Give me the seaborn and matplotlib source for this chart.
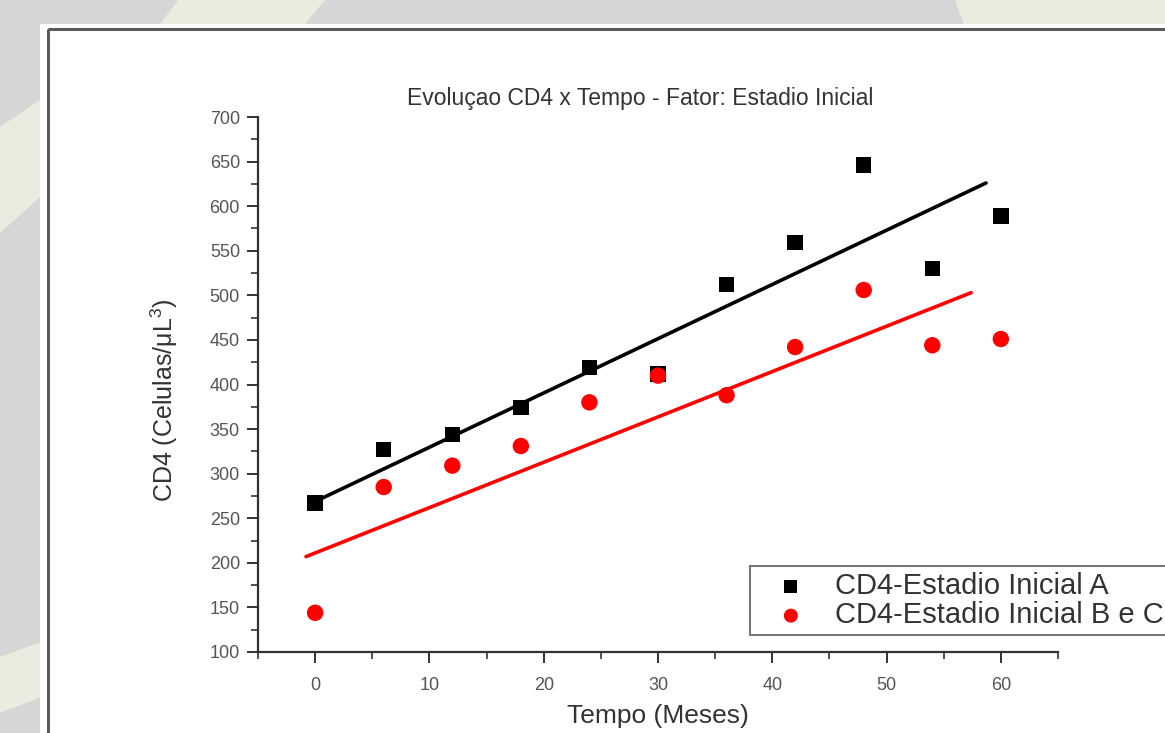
import numpy as np
import pandas as pd
import matplotlib
import matplotlib.pyplot as plt
import seaborn as sns
from matplotlib.patches import Polygon, Rectangle
from matplotlib.ticker import MultipleLocator

matplotlib.use('Agg')

# dados
meses = [0, 6, 12, 18, 24, 30, 36, 42, 48, 54, 60]
cd4_a = [267, 327, 344, 374, 419, 412, 512, 559, 646, 530, 589]
cd4_bc = [144, 285, 309, 331, 380, 410, 388, 442, 506, 444, 451]

# retas de ajuste (extremos)
fit_a_x = [0.2, 58.7]
fit_a_y = [270, 626]
fit_bc_x = [-0.8, 57.4]
fit_bc_y = [207, 503]

rotulo_a = 'CD4-Estadio Inicial A'
rotulo_bc = 'CD4-Estadio Inicial B e C'

sns.set_style('white')
plt.rcParams['font.family'] = ['Liberation Sans', 'DejaVu Sans']
plt.rcParams['mathtext.fontset'] = 'custom'
plt.rcParams['mathtext.rm'] = 'Liberation Sans'
plt.rcParams['mathtext.it'] = 'Liberation Sans'

W, H = 1165, 733
fig = plt.figure(figsize=(W / 100, H / 100), dpi=100)
fig.patch.set_facecolor('#d6d6d6')

# fundo (faixas) e painel branco
bg = fig.add_axes([0, 0, 1, 1], zorder=0)
bg.set_xlim(0, W)
bg.set_ylim(H, 0)
bg.axis('off')
verde = '#e9eddf'
bg.add_patch(Polygon([(178, 0), (325, 0), (305, 24), (40, 197), (0, 233),
                      (0, 127), (40, 100), (160, 24)], closed=True, color=verde, lw=0))
bg.add_patch(Polygon([(0, 657), (60, 635), (60, 690), (0, 713)], closed=True, color=verde, lw=0))
bg.add_patch(Polygon([(955, 0), (W, 0), (W, 30), (966, 30)], closed=True, color=verde, lw=0))
bg.add_patch(Rectangle((40, 24), W, H, facecolor='white', edgecolor='none'))
bg.add_patch(Rectangle((48, 29), W, H, facecolor='none', edgecolor='#5a5a5a', lw=2.2))

ax = fig.add_axes([258 / W, 1 - 652 / H, 800 / W, 535 / H], zorder=1)
ax.patch.set_alpha(0)

df_fit_a = pd.DataFrame({'x': fit_a_x, 'y': fit_a_y})
df_fit_bc = pd.DataFrame({'x': fit_bc_x, 'y': fit_bc_y})
sns.lineplot(data=df_fit_a, x='x', y='y', color='black', lw=2.6, ax=ax)
sns.lineplot(data=df_fit_bc, x='x', y='y', color='#ff0000', lw=2.6, ax=ax)

df_a = pd.DataFrame({'meses': meses, 'cd4': cd4_a})
df_bc = pd.DataFrame({'meses': meses, 'cd4': cd4_bc})
sns.scatterplot(data=df_a, x='meses', y='cd4', marker='s', s=125, color='black',
                edgecolor='none', label=rotulo_a, ax=ax, zorder=3)
sns.scatterplot(data=df_bc, x='meses', y='cd4', marker='o', s=140, color='#ff0000',
                edgecolor='none', label=rotulo_bc, ax=ax, zorder=4)

ax.set_xlim(-5, 65)
ax.set_ylim(100, 700)
ax.xaxis.set_major_locator(MultipleLocator(10))
ax.xaxis.set_minor_locator(MultipleLocator(5))
ax.yaxis.set_major_locator(MultipleLocator(50))
ax.yaxis.set_minor_locator(MultipleLocator(25))

for s in ['top', 'right']:
    ax.spines[s].set_visible(False)
for s in ['left', 'bottom']:
    ax.spines[s].set_color('#333333')
    ax.spines[s].set_linewidth(1.6)

ax.tick_params(which='major', direction='out', length=8, width=1.4, color='#333333',
               labelsize=13, labelcolor='#555555', bottom=True, left=True)
ax.tick_params(which='minor', direction='out', length=5, width=1.2, color='#333333',
               bottom=True, left=True)
ax.tick_params(axis='x', pad=10)
ax.tick_params(axis='y', pad=5)

ax.set_xlabel('Tempo (Meses)', fontsize=19, color='#333333')
ax.set_ylabel('CD4 (Celulas/μL$^{3}$)', fontsize=18, color='#333333')
ax.xaxis.set_label_coords(0.5, -0.098)
ax.yaxis.set_label_coords(-0.097, 0.47)

fig.text(640 / W, 1 - 98 / H, 'Evoluçao CD4 x Tempo - Fator: Estadio Inicial',
         fontsize=16.5, color='#333333', ha='center', va='center')

leg = ax.legend(loc='upper left', bbox_to_anchor=((750 - 258) / 800, (652 - 566) / 535),
                fontsize=21, frameon=True, fancybox=False, borderpad=0.2,
                handlelength=2.4, handletextpad=0.3, labelspacing=0.05,
                borderaxespad=0, markerscale=0.85)
leg.get_frame().set_edgecolor('#555555')
leg.get_frame().set_linewidth(1.5)
for t in leg.get_texts():
    t.set_color('#333333')

plt.savefig('out.png', dpi=100)
